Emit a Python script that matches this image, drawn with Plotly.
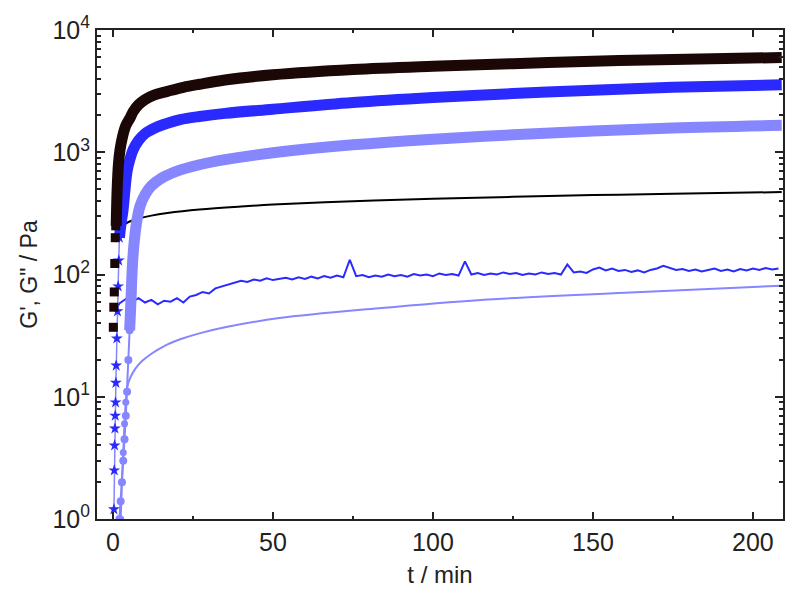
import plotly.graph_objects as go

# --- sample 1 (black) ---
black_early_t = [0.1, 0.25, 0.4, 0.55, 0.7, 0.85]
black_early_g1 = [37, 54, 72, 123, 200, 250]
black_t = [1.0, 1.3, 1.7, 2.2, 3.0, 4.0, 5.3, 6.3, 8, 10, 13, 17, 22, 27, 35, 50, 75, 100, 125, 150, 175, 209]
black_g1 = [250, 500, 800, 1050, 1350, 1650, 1900, 2150, 2450, 2700, 2950, 3150, 3400, 3600, 3900, 4300, 4750, 5050, 5300, 5550, 5750, 5950]
black_g2_t = [0.5, 1, 2, 3, 5, 8, 12, 17, 27, 40, 50, 75, 100, 125, 150, 175, 209]
black_g2 = [200, 218, 238, 252, 270, 287, 303, 318, 340, 360, 373, 397, 416, 432, 446, 458, 472]

# --- sample 2 (blue) ---
blue_early_t = [0.3, 0.4, 0.5, 0.6, 0.7, 0.8, 0.9, 1.0, 1.2, 1.4, 1.6, 1.8, 2.0]
blue_early_g1 = [1.2, 2.5, 4, 5.5, 7, 9, 13, 18, 30, 50, 80, 130, 200]
blue_t = [2.0, 2.5, 3.1, 3.7, 4.4, 5.3, 6.3, 8, 10, 11.6, 14, 17, 21, 27, 35, 50, 75, 100, 125, 150, 175, 209]
blue_g1 = [200, 260, 330, 480, 700, 880, 1050, 1250, 1420, 1510, 1620, 1730, 1850, 1960, 2080, 2250, 2550, 2800, 3020, 3220, 3400, 3560]
blue_g2_t = [1.5] + list(range(2, 210, 2))
blue_g2 = [
    55,
    58, 63, 60, 64, 59, 62, 57, 61, 60, 64,
    59, 66, 68, 72, 70, 77, 80, 83, 86, 89,
    87, 91, 89, 93, 90, 92, 94, 91, 95, 92,
    96, 93, 97, 94, 98, 95, 132, 97, 99, 95,
    98, 96, 100, 97, 99, 96, 101, 98, 100, 97,
    102, 99, 101, 98, 128, 100, 103, 99, 102, 100,
    104, 101, 103, 99, 102, 100, 104, 101, 103, 100,
    121, 104, 106, 103, 110, 114, 108, 112, 107, 109,
    105, 108, 104, 109, 112, 118, 113, 109, 111, 107,
    110, 106, 109, 112, 107, 110, 106, 111, 108, 112,
    109, 113, 110, 112,
]

# --- sample 3 (light blue) ---
light_early_t = [2.0, 2.4, 2.8, 3.2, 3.6, 4.0, 4.4, 4.8, 5.2]
light_early_g1 = [1, 1.4, 2, 3, 4.5, 7, 11, 20, 35]
light_t = [5.2, 5.6, 6.0, 6.5, 7.3, 8.4, 10, 12, 15, 20, 27, 35, 50, 75, 100, 125, 150, 175, 209]
light_g1 = [35, 60, 110, 170, 260, 360, 450, 530, 610, 700, 790, 870, 990, 1150, 1280, 1390, 1490, 1580, 1660]
light_g2_early_t = [2.4, 2.8, 3.2, 3.6, 4.0]
light_g2_early = [1, 2, 3.5, 6, 9]
light_g2_t = [2.4, 2.8, 3.2, 3.6, 4.0, 4.6, 5.5, 7, 9, 12, 16, 21, 27, 35, 52, 83, 115, 160, 209]
light_g2 = [1, 2, 3.5, 6, 9, 12.5, 14.5, 17, 19.5, 22.5, 26, 29.5, 33, 37, 44, 53, 62, 71, 81]

# tick labels
x_ticks = [0, 50, 100, 150, 200]
y_ticks = [1, 10, 100, 1000, 10000]
y_ticktext = ["10<sup>0</sup>", "10<sup>1</sup>", "10<sup>2</sup>", "10<sup>3</sup>", "10<sup>4</sup>"]
y_minor = [m * 10 ** e for e in range(4) for m in range(2, 10)]

BLACK = "#1c0707"
BLUE = "#2a2aff"
LIGHT = "#8686ff"
AX = "#222222"
FONT = "Liberation Sans, Arial"

fig = go.Figure()

# G'' thin lines
fig.add_trace(go.Scatter(x=black_g2_t, y=black_g2, mode="lines",
                         line=dict(color="black", width=2, shape="spline")))
fig.add_trace(go.Scatter(x=light_g2_t, y=light_g2, mode="lines",
                         line=dict(color=LIGHT, width=2, shape="spline")))
fig.add_trace(go.Scatter(x=light_g2_early_t, y=light_g2_early, mode="markers",
                         marker=dict(size=7, color=LIGHT)))
fig.add_trace(go.Scatter(x=blue_g2_t, y=blue_g2, mode="lines",
                         line=dict(color=BLUE, width=2)))

# G' thick bands
fig.add_trace(go.Scatter(x=light_early_t, y=light_early_g1, mode="lines+markers",
                         line=dict(color=LIGHT, width=2),
                         marker=dict(size=8, color=LIGHT, symbol="circle")))
fig.add_trace(go.Scatter(x=light_t, y=light_g1, mode="lines",
                         line=dict(color=LIGHT, width=11, shape="spline")))
fig.add_trace(go.Scatter(x=blue_early_t, y=blue_early_g1, mode="lines+markers",
                         line=dict(color=LIGHT, width=1.5),
                         marker=dict(size=9, color=BLUE, symbol="star")))
fig.add_trace(go.Scatter(x=blue_t, y=blue_g1, mode="lines",
                         line=dict(color=BLUE, width=11, shape="spline")))
fig.add_trace(go.Scatter(x=black_early_t, y=black_early_g1, mode="markers",
                         marker=dict(size=9, color=BLACK, symbol="square")))
fig.add_trace(go.Scatter(x=black_t, y=black_g1, mode="lines",
                         line=dict(color=BLACK, width=11, shape="spline")))

axis_common = dict(
    showline=True, linecolor=AX, linewidth=2, mirror="allticks",
    ticks="inside", tickcolor=AX, tickwidth=1.5, showgrid=False, zeroline=False,
    automargin=False,
    tickfont=dict(family=FONT, size=25, color=AX),
)

# the page body adds an 8px offset, so margins are shifted to compensate
fig.update_layout(
    width=800, height=598,
    margin=dict(l=89, r=25, t=22, b=87),
    plot_bgcolor="white", paper_bgcolor="white",
    showlegend=False,
    font=dict(family=FONT, color=AX),
    xaxis=dict(
        range=[-5, 209.4], tickvals=x_ticks, ticklen=7,
        minor=dict(dtick=25, tick0=0, ticks="inside", ticklen=3, tickcolor=AX),
        title=dict(text="t / min", font=dict(size=24), standoff=11),
        **axis_common,
    ),
    yaxis=dict(
        type="log", range=[0, 4], ticklen=8,
        tickvals=y_ticks, ticktext=y_ticktext,
        minor=dict(tickvals=y_minor, ticks="inside", ticklen=4, tickcolor=AX),
        title=dict(text="G', G\" / Pa", font=dict(size=23), standoff=8),
        **axis_common,
    ),
)

fig.write_html("out.html")
